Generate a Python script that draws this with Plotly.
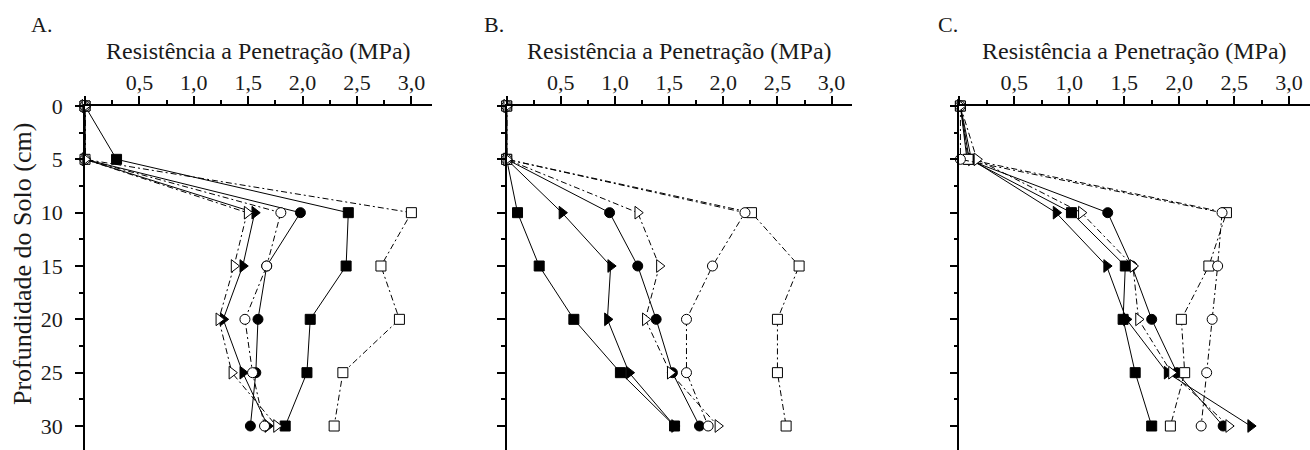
import plotly.graph_objects as go

depths = [0, 5, 10, 15, 20, 25, 30]

# Panel A
a_filled_sq = [0, 0.29, 2.42, 2.40, 2.07, 2.04, 1.84]
a_open_sq = [0, 0, 3.00, 2.72, 2.89, 2.37, 2.29]
a_filled_circ = [0, 0, 1.98, 1.67, 1.59, 1.57, 1.52]
a_open_circ = [0, 0, 1.80, 1.67, 1.47, 1.54, 1.65]
a_filled_tri = [0, 0, 1.56, 1.45, 1.27, 1.45, 1.68]
a_open_tri = [0, 0, 1.49, 1.37, 1.23, 1.35, 1.76]

# Panel B
b_filled_sq = [0, 0, 0.10, 0.30, 0.62, 1.05, 1.55]
b_open_sq = [0, 0, 2.26, 2.70, 2.50, 2.50, 2.58]
b_filled_circ = [0, 0, 0.95, 1.21, 1.38, 1.53, 1.78]
b_open_circ = [0, 0, 2.20, 1.90, 1.66, 1.66, 1.86]
b_filled_tri = [0, 0, 0.51, 0.96, 0.93, 1.13, 1.55]
b_open_tri = [0, 0, 1.21, 1.41, 1.28, 1.51, 1.95]

# Panel C
c_filled_sq = [0.01, 0.09, 1.02, 1.51, 1.49, 1.60, 1.75]
c_open_sq = [0.01, 0.08, 2.43, 2.27, 2.02, 2.05, 1.92]
c_filled_circ = [0.01, 0.07, 1.35, 1.57, 1.75, 1.98, 2.40]
c_open_circ = [0.01, 0.01, 2.39, 2.35, 2.30, 2.25, 2.20]
c_filled_tri = [0.01, 0.11, 0.88, 1.34, 1.52, 1.89, 2.65]
c_open_tri = [0.01, 0.16, 1.11, 1.58, 1.63, 1.93, 2.45]

panel_labels = ["A.", "B.", "C."]
x_title = "Resistência a Penetração (MPa)"
y_title = "Profundidade do Solo (cm)"
x_tickvals = [0, 0.5, 1.0, 1.5, 2.0, 2.5, 3.0]
x_ticktext = ["", "0,5", "1,0", "1,5", "2,0", "2,5", "3,0"]
x_minor = [0.25, 0.75, 1.25, 1.75, 2.25, 2.75]
y_tickvals = [0, 5, 10, 15, 20, 25, 30]
y_ticktext = ["0", "5", "10", "15", "20", "25", "30"]
y_minor = [2.5, 7.5, 12.5, 17.5, 22.5, 27.5]

FONT = "Liberation Serif, Times New Roman, serif"
TXT = "#1a1a1a"
W, H = 1310, 450
TOP = 106

DD = "6px,3px,2px,3px"
# series styles: (symbol, fill, dash); filled first, open drawn on top
styles = {
    "filled_sq": ("square", "black", "solid"),
    "filled_circ": ("circle", "black", "solid"),
    "filled_tri": ("triangle-right", "black", "solid"),
    "open_sq": ("square", "white", DD),
    "open_circ": ("circle", "white", DD),
    "open_tri": ("triangle-right", "white", DD),
}

panels = [
    {"filled_sq": a_filled_sq, "filled_circ": a_filled_circ, "filled_tri": a_filled_tri,
     "open_sq": a_open_sq, "open_circ": a_open_circ, "open_tri": a_open_tri},
    {"filled_sq": b_filled_sq, "filled_circ": b_filled_circ, "filled_tri": b_filled_tri,
     "open_sq": b_open_sq, "open_circ": b_open_circ, "open_tri": b_open_tri},
    {"filled_sq": c_filled_sq, "filled_circ": c_filled_circ, "filled_tri": c_filled_tri,
     "open_sq": c_open_sq, "open_circ": c_open_circ, "open_tri": c_open_tri},
]

# pixel geometry of each panel: (x origin px, px per MPa)
geom = [(85.0, 108.8), (506.7, 108.3), (959.3, 110.0)]
xmax = 3.19

fig = go.Figure()
for i, data in enumerate(panels):
    sfx = "" if i == 0 else str(i + 1)
    for key, vals in data.items():
        sym, fill, dash = styles[key]
        size = 11 if "tri" in key else 10
        fig.add_trace(go.Scatter(
            x=vals, y=depths, xaxis="x" + sfx, yaxis="y" + sfx,
            mode="lines+markers", name=key, showlegend=False, cliponaxis=False,
            hoverinfo="skip",
            line=dict(color="black", width=1, dash=dash),
            marker=dict(symbol=sym, size=size, color=fill,
                        line=dict(color="black", width=1)),
        ))

layout = dict(
    width=W, height=H, margin=dict(l=0, r=0, t=TOP, b=0),
    paper_bgcolor="white", plot_bgcolor="white",
    font=dict(family=FONT, size=22, color=TXT),
    showlegend=False,
)
plot_h = H - TOP
annotations = []
for i, (x0, s) in enumerate(geom):
    sfx = "" if i == 0 else str(i + 1)
    d0 = x0 / W
    d1 = min((x0 + s * xmax) / W, 1.0)
    layout["xaxis" + sfx] = dict(
        domain=[d0, d1], range=[0, xmax], side="top", anchor="y" + sfx,
        showline=True, linecolor="black", linewidth=1.5, showgrid=False, zeroline=False,
        tickmode="array", tickvals=x_tickvals, ticktext=x_ticktext,
        ticks="outside", ticklen=8, tickwidth=1.5, tickcolor="black",
        ticklabelstandoff=-3,
        tickfont=dict(family=FONT, size=22, color=TXT),
        minor=dict(tickmode="array", tickvals=x_minor, ticks="outside", ticklen=4,
                   tickwidth=1.5, tickcolor="black", showgrid=False),
    )
    layout["yaxis" + sfx] = dict(
        domain=[0, 1], range=[32.25, 0], anchor="x" + sfx,
        showline=True, linecolor="black", linewidth=1.5, showgrid=False, zeroline=False,
        tickmode="array", tickvals=y_tickvals, ticktext=y_ticktext,
        showticklabels=(i == 0),
        ticks="outside", ticklen=8, tickwidth=1.5, tickcolor="black",
        ticklabelstandoff=8,
        tickfont=dict(family=FONT, size=22, color=TXT),
        minor=dict(tickmode="array", tickvals=y_minor, ticks="outside", ticklen=4,
                   tickwidth=1.5, tickcolor="black", showgrid=False),
    )
    cx = (d0 + d1) / 2
    annotations.append(dict(
        text=x_title, xref="paper", yref="paper", x=cx, y=(H - 51) / plot_h,
        xanchor="center", yanchor="middle", showarrow=False,
        font=dict(family=FONT, size=24, color=TXT),
    ))
label_x = [41, 494, 948]
for lx, lab in zip(label_x, panel_labels):
    annotations.append(dict(
        text=lab, xref="paper", yref="paper", x=lx / W, y=(H - 24) / plot_h,
        xanchor="center", yanchor="middle", showarrow=False,
        font=dict(family=FONT, size=22, color=TXT),
    ))
annotations.append(dict(
    text=y_title, xref="paper", yref="paper", x=22 / W, y=(H - 264) / plot_h,
    xanchor="center", yanchor="middle", textangle=-90, showarrow=False,
    font=dict(family=FONT, size=26, color=TXT),
))
layout["annotations"] = annotations
fig.update_layout(**layout)
fig.write_html("out.html", config={"displayModeBar": False},
               post_script="document.body.style.margin='0px';")
